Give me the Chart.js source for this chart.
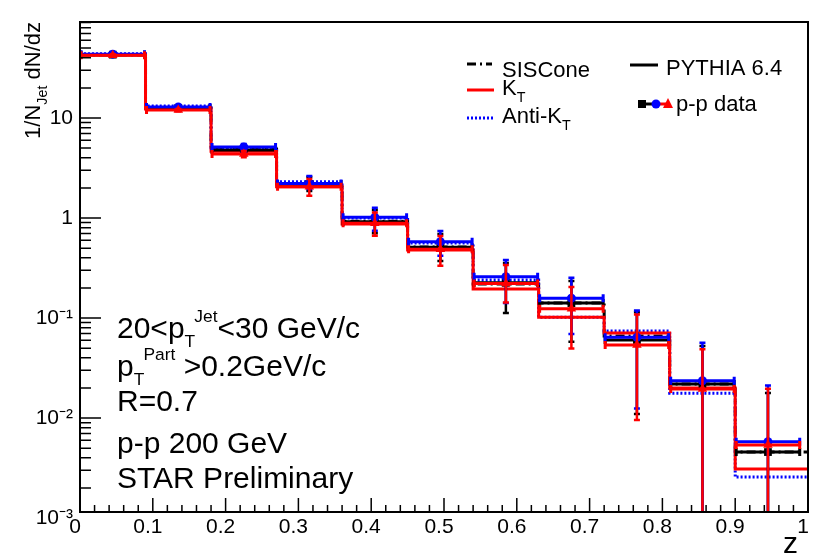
<!DOCTYPE html>
<html><head><meta charset="utf-8">
<script src="https://cdn.jsdelivr.net/npm/chart.js@4/dist/chart.umd.min.js"></script>
<style>html,body{margin:0;padding:0;background:#fff;}#wrap{width:831px;height:560px;}</style>
</head><body><div id="wrap"><canvas id="c" width="831" height="560"></canvas></div>
<script>
// ---------------- data ----------------
const binEdges    = [0, 0.09, 0.18, 0.27, 0.36, 0.45, 0.54, 0.63, 0.72, 0.81, 0.90, 0.99];
const pythiaEdges = [0, 0.09, 0.18, 0.27, 0.36, 0.45, 0.54, 0.63, 0.72, 0.81, 0.90, 1.00];
const binCenters  = [0.045, 0.135, 0.225, 0.315, 0.405, 0.495, 0.585, 0.675, 0.765, 0.855, 0.945];

// p-p data, SISCone (black squares)
const dataSIS   = [43.0, 12.6, 4.79, 2.19, 0.918, 0.509, 0.225, 0.141, 0.0603, 0.0219, 0.00457];
const dataSISHi = [45.0, 13.2, 5.30, 2.63, 1.23, 0.71, 0.363, 0.240, 0.117, 0.0537, 0.0182];
const dataSISLo = [41.0, 12.0, 4.30, 1.82, 0.69, 0.363, 0.110, 0.0566, 0.0107, 0, 0];
// p-p data, Anti-kT (blue circles)
const dataAKT   = [43.5, 12.9, 5.13, 2.22, 1.02, 0.579, 0.259, 0.158, 0.0641, 0.0236, 0.00579];
const dataAKTHi = [45.5, 13.5, 5.62, 2.69, 1.30, 0.759, 0.389, 0.259, 0.122, 0.0580, 0.0217];
const dataAKTLo = [41.5, 12.3, 4.47, 1.91, 0.730, 0.410, 0.138, 0.0676, 0.0122, 0, 0];
// p-p data, kT (red triangles)
const dataKT    = [42.5, 12.0, 4.37, 2.06, 0.885, 0.486, 0.222, 0.124, 0.0537, 0.0195, 0.00537];
const dataKTHi  = [44.5, 12.6, 4.79, 2.51, 1.16, 0.676, 0.347, 0.209, 0.111, 0.0498, 0.0201];
const dataKTLo  = [40.5, 11.4, 3.97, 1.63, 0.650, 0.326, 0.140, 0.0486, 0.00933, 0, 0];

// PYTHIA 6.4 histograms
const pythiaSIS = [43.0, 12.6, 4.90, 2.19, 0.93, 0.513, 0.219, 0.141, 0.066, 0.0219, 0.00457];
const pythiaKT  = [42.7, 12.3, 4.65, 2.06, 0.871, 0.479, 0.195, 0.102, 0.0708, 0.0200, 0.00309];
const pythiaAKT = [44.0, 13.2, 5.05, 2.31, 1.00, 0.562, 0.240, 0.102, 0.0741, 0.0177, 0.00257];

// axes
const xTickValues = [0, 0.1, 0.2, 0.3, 0.4, 0.5, 0.6, 0.7, 0.8, 0.9, 1];
const xTickLabels = ['0', '0.1', '0.2', '0.3', '0.4', '0.5', '0.6', '0.7', '0.8', '0.9', '1'];
const yTickValues = [0.001, 0.01, 0.1, 1, 10];
const yTickLabels = ['10\u207B\u00B3', '10\u207B\u00B2', '10\u207B\u00B9', '1', '10'];
const yMin = 0.00115, yMax = 91.2;

const FONT = '"Liberation Sans", Arial, Helvetica, sans-serif';
const RED = '#ff0000', BLUE = '#0000ff', BLACK = '#000000';

function histPoints(edges, vals) {
  const pts = vals.map((v, i) => ({x: edges[i], y: v}));
  pts.push({x: edges[edges.length - 1], y: vals[vals.length - 1]});
  return pts;
}
function markerPoints(vals) { return vals.map((v, i) => ({x: binCenters[i], y: v})); }

// ------------- plugins -------------
const errorBarPlugin = {
  id: 'errorBars',
  beforeDatasetDraw(chart, args) {
    const ds = chart.data.datasets[args.index];
    if (!ds.errVals) return;
    const ctx = chart.ctx, xs = chart.scales.x, ys = chart.scales.y, a = chart.chartArea;
    ctx.save();
    ctx.beginPath(); ctx.rect(a.left, a.top, a.right - a.left, a.bottom - a.top); ctx.clip();
    ctx.strokeStyle = ds.errColor; ctx.lineWidth = 3; ctx.lineCap = 'butt';
    ds.errVals.forEach((v, i) => {
      const y = ys.getPixelForValue(v);
      const x0 = xs.getPixelForValue(binEdges[i]), x1 = xs.getPixelForValue(binEdges[i + 1]);
      const xc = xs.getPixelForValue(binCenters[i]);
      const lo = ds.errLo[i] > 0 ? ys.getPixelForValue(ds.errLo[i]) : a.bottom + 5;
      const hi = ys.getPixelForValue(ds.errHi[i]);
      ctx.beginPath();
      ctx.moveTo(x0, y); ctx.lineTo(x1, y);
      ctx.moveTo(x0 + 1, y - 4); ctx.lineTo(x0 + 1, y + 4);
      ctx.moveTo(x1 - 1, y - 4); ctx.lineTo(x1 - 1, y + 4);
      ctx.stroke();
      ctx.lineWidth = 2.5;
      ctx.beginPath();
      ctx.moveTo(xc, hi); ctx.lineTo(xc, lo);
      ctx.moveTo(xc - 3, hi + 1); ctx.lineTo(xc + 3, hi + 1);
      ctx.moveTo(xc - 3, lo - 1); ctx.lineTo(xc + 3, lo - 1);
      ctx.stroke();
      ctx.lineWidth = 3;
    });
    ctx.restore();
  }
};

function drawRich(ctx, x, y, parts, size) {
  let cx = x;
  for (const p of parts) {
    const s = size * (p.s || 1);
    ctx.font = s + 'px ' + FONT;
    const px = cx + (p.dx || 0) * size;
    ctx.fillText(p.t, px, y + (p.dy || 0) * size);
    cx = px + ctx.measureText(p.t).width;
  }
  return cx - x;
}
function richWidth(ctx, parts, size) {
  let w = 0;
  for (const p of parts) {
    ctx.font = size * (p.s || 1) + 'px ' + FONT;
    w += (p.dx || 0) * size + ctx.measureText(p.t).width;
  }
  return w;
}

const decorPlugin = {
  id: 'decor',
  afterDraw(chart) {
    const ctx = chart.ctx, xs = chart.scales.x, ys = chart.scales.y, a = chart.chartArea;
    ctx.save();
    ctx.strokeStyle = BLACK; ctx.fillStyle = BLACK;
    // frame
    ctx.lineWidth = 2;
    ctx.strokeRect(a.left, a.top, a.right - a.left, a.bottom - a.top);
    // x ticks (inward)
    ctx.lineWidth = 1.5;
    ctx.beginPath();
    for (let k = 0; k <= 50; k++) {
      const px = xs.getPixelForValue(k / 50);
      const len = (k % 5 === 0) ? 14 : 7;
      ctx.moveTo(px, a.bottom); ctx.lineTo(px, a.bottom - len);
    }
    // y ticks (inward)
    for (let d = -3; d <= 1; d++) {
      for (let m = 1; m <= 9; m++) {
        const v = m * Math.pow(10, d);
        if (v < yMin || v > yMax) continue;
        const py = ys.getPixelForValue(v);
        const len = (m === 1) ? 21 : 11;
        ctx.moveTo(a.left, py); ctx.lineTo(a.left + len, py);
      }
    }
    ctx.stroke();

    ctx.textBaseline = 'alphabetic'; ctx.textAlign = 'left';
    // y title (rotated)
    const yTitle = [{t: '1/N'}, {t: 'Jet', s: 0.65, dy: 0.3}, {t: ' dN/dz'}];
    const ts = 22;
    const tw = richWidth(ctx, yTitle, ts);
    ctx.save();
    ctx.translate(40, 22);
    ctx.rotate(-Math.PI / 2);
    drawRich(ctx, -tw, 0, yTitle, ts);
    ctx.restore();
    // x title
    ctx.font = '30px ' + FONT;
    ctx.textAlign = 'right';
    ctx.fillText('z', 798, 553);
    ctx.textAlign = 'left';

    // annotation text
    const fs = 30;
    drawRich(ctx, 117, 338, [{t: '20<p'}, {t: 'T', s: 0.58, dy: 0.3}, {t: 'Jet', s: 0.58, dy: -0.55, dx: -0.03}, {t: '<30 GeV/c'}], fs);
    drawRich(ctx, 117, 376, [{t: 'p'}, {t: 'T', s: 0.58, dy: 0.3}, {t: 'Part', s: 0.58, dy: -0.55, dx: -0.03}, {t: ' >0.2GeV/c'}], fs);
    drawRich(ctx, 117, 411, [{t: 'R=0.7'}], fs);
    drawRich(ctx, 117, 453, [{t: 'p-p 200 GeV'}], fs);
    drawRich(ctx, 117, 488, [{t: 'STAR Preliminary'}], fs);

    // legend
    const ls = 22;
    ctx.lineWidth = 3;
    const legLine = (x0, x1, y, color, dash) => {
      ctx.save(); ctx.strokeStyle = color; ctx.setLineDash(dash);
      ctx.beginPath(); ctx.moveTo(x0, y); ctx.lineTo(x1, y); ctx.stroke(); ctx.restore();
    };
    legLine(467, 492, 64, BLACK, [9, 4, 2, 4]);
    drawRich(ctx, 502, 77, [{t: 'SISCone'}], ls);
    legLine(467, 494, 90, RED, []);
    drawRich(ctx, 502, 95, [{t: 'K'}, {t: 'T', s: 0.65, dy: 0.3}], ls);
    legLine(467, 494, 118, BLUE, [2, 2]);
    drawRich(ctx, 502, 123, [{t: 'Anti-K'}, {t: 'T', s: 0.65, dy: 0.3}], ls);
    legLine(630, 658, 65, BLACK, []);
    drawRich(ctx, 666, 75, [{t: 'PYTHIA 6.4'}], ls);
    legLine(642, 657, 104, BLACK, []);
    legLine(657, 669, 104, RED, []);
    ctx.fillStyle = BLACK; ctx.fillRect(638, 100, 8, 8);
    ctx.fillStyle = BLUE; ctx.beginPath(); ctx.arc(656, 104, 4.5, 0, Math.PI * 2); ctx.fill();
    ctx.fillStyle = RED; ctx.beginPath(); ctx.moveTo(668, 98); ctx.lineTo(673, 108); ctx.lineTo(663, 108); ctx.closePath(); ctx.fill();
    ctx.fillStyle = BLACK;
    drawRich(ctx, 676, 111, [{t: 'p-p data'}], ls);
    ctx.restore();
  }
};

// ------------- chart -------------
new Chart(document.getElementById('c'), {
  type: 'scatter',
  data: {
    datasets: [
      {label: 'p-p data kT', data: markerPoints(dataKT), pointStyle: 'triangle', pointRadius: 5.5,
       backgroundColor: RED, borderColor: RED, borderWidth: 0,
       errVals: dataKT, errLo: dataKTLo, errHi: dataKTHi, errColor: RED},
      {label: 'p-p data Anti-kT', data: markerPoints(dataAKT), pointStyle: 'circle', pointRadius: 4.5,
       backgroundColor: BLUE, borderColor: BLUE, borderWidth: 0,
       errVals: dataAKT, errLo: dataAKTLo, errHi: dataAKTHi, errColor: BLUE},
      {label: 'p-p data SISCone', data: markerPoints(dataSIS), pointStyle: 'rect', pointRadius: 5.5,
       backgroundColor: BLACK, borderColor: BLACK, borderWidth: 0,
       errVals: dataSIS, errLo: dataSISLo, errHi: dataSISHi, errColor: BLACK},
      {type: 'line', label: 'PYTHIA kT', data: histPoints(pythiaEdges, pythiaKT), stepped: true,
       borderColor: RED, borderWidth: 3, pointRadius: 0, fill: false},
      {type: 'line', label: 'PYTHIA Anti-kT', data: histPoints(pythiaEdges, pythiaAKT), stepped: true,
       borderColor: BLUE, borderWidth: 3, borderDash: [2, 2], pointRadius: 0, fill: false},
      {type: 'line', label: 'PYTHIA SISCone', data: histPoints(pythiaEdges, pythiaSIS), stepped: true,
       borderColor: BLACK, borderWidth: 3, borderDash: [9, 4, 2, 4], pointRadius: 0, fill: false}
    ]
  },
  options: {
    responsive: false, animation: false, devicePixelRatio: 1,
    layout: {padding: {left: 0, top: 22, right: 23, bottom: 0}},
    plugins: {legend: {display: false}, tooltip: {enabled: false}},
    scales: {
      x: {
        type: 'linear', min: 0, max: 1,
        grid: {display: false, drawTicks: false}, border: {display: false},
        afterBuildTicks: s => { s.ticks = xTickValues.map(v => ({value: v})); },
        afterFit: s => { s.height = 48; },
        ticks: {autoSkip: false, maxRotation: 0, padding: 3, labelOffset: -5, color: BLACK,
                font: {family: FONT, size: 21},
                callback: v => xTickLabels[xTickValues.findIndex(t => Math.abs(t - v) < 1e-9)]}
      },
      y: {
        type: 'logarithmic', min: yMin, max: yMax,
        grid: {display: false, drawTicks: false}, border: {display: false},
        afterBuildTicks: s => { s.ticks = yTickValues.map(v => ({value: v})); },
        afterFit: s => { s.width = 80; },
        ticks: {autoSkip: false, padding: 7, color: BLACK,
                font: {family: FONT, size: 21},
                callback: v => yTickLabels[yTickValues.findIndex(t => Math.abs(t - v) / t < 1e-6)]}
      }
    }
  },
  plugins: [errorBarPlugin, decorPlugin]
});
</script>
</body></html>
